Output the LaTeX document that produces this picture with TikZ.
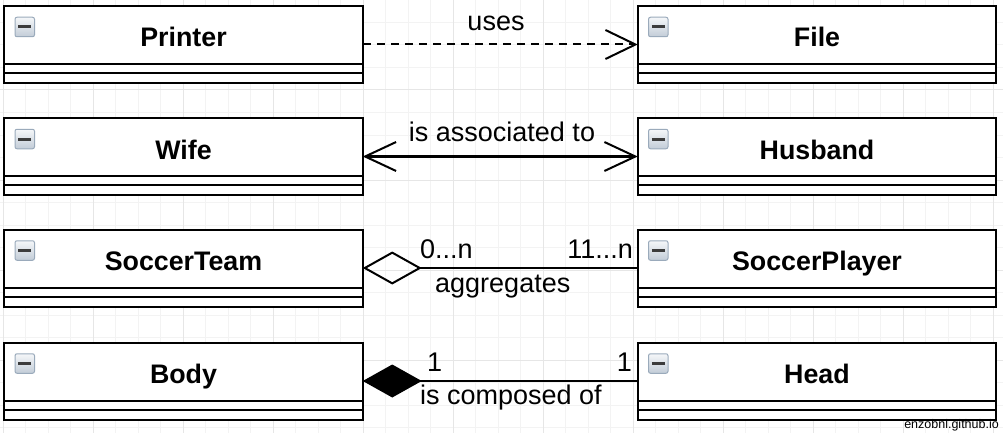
\documentclass[tikz,border=0pt]{standalone}
\usepackage{fontspec}
\setmainfont{Liberation Sans}
\usetikzlibrary{arrows.meta,calc}
\definecolor{gridminor}{HTML}{F3F3F3}
\definecolor{gridmajor}{HTML}{E6E6E6}
\definecolor{iconborder}{HTML}{9AAABB}
\definecolor{icontop}{HTML}{F5F7F9}
\definecolor{iconbottom}{HTML}{C2CCD7}
\definecolor{iconbar}{HTML}{3C3C3C}
\tikzset{
  classbox/.style={rectangle, draw=black, line width=2pt, fill=white, minimum width=358.5pt, minimum height=77pt, inner sep=0pt, outer sep=0pt},
  boxline/.style={draw=black, line width=2pt},
  classname/.style={font=\bfseries\fontsize{26.8}{30}\selectfont, inner sep=0pt},
  lbl/.style={font=\fontsize{27}{30}\selectfont, inner sep=0pt},
  icon/.style={rectangle, draw=iconborder, line width=1pt, rounded corners=2pt, top color=icontop, bottom color=iconbottom, minimum width=19.5pt, minimum height=19.5pt, inner sep=0pt},
  iconminus/.style={draw=iconbar, line width=3pt},
  conn/.style={draw=black, line width=2pt},
  gridline/.style={draw=gridminor, line width=1pt},
  gridmaj/.style={draw=gridmajor, line width=1pt},
  watermark/.style={font=\fontsize{12.5}{14}\selectfont, inner sep=0pt},
}
\newcommand{\umlclass}[4]{%
  \node[classbox] (#1) at (#2,#3+38.5) {};
  \draw[boxline] ($(#1.north west)+(0,58)$) -- ($(#1.north east)+(0,58)$);
  \draw[boxline] ($(#1.north west)+(0,67)$) -- ($(#1.north east)+(0,67)$);
  \node[classname, anchor=base] (#1-name) at (#2,#3+41) {#4};
  \node[icon] (#1-icon) at ($(#1.north west)+(20.5,21)$) {};
  \draw[iconminus] ($(#1-icon.center)+(-6.5,0)$) -- ($(#1-icon.center)+(6.5,0)$);
}
\begin{document}
\begin{tikzpicture}[x=1pt,y=-1pt]
  \useasboundingbox (0,0) rectangle (1003,433);
  \fill[white] (0,0) rectangle (1003,433);
  % grid
  \foreach \k in {0,...,44} \draw[gridline] (3+22.5*\k,0) -- (3+22.5*\k,433);
  \foreach \k in {0,...,19} \draw[gridline] (0,22.5*\k) -- (1003,22.5*\k);
  \foreach \k in {0,...,11} \draw[gridmaj] (3+90*\k,0) -- (3+90*\k,433);
  \foreach \k in {0,...,4} \draw[gridmaj] (0,90*\k) -- (1003,90*\k);
  % classes
  \umlclass{printer}{183.5}{6}{Printer}
  \umlclass{file}{817}{6}{File}
  \umlclass{wife}{183.5}{118}{Wife}
  \umlclass{husband}{817}{118}{Husband}
  \umlclass{team}{183.5}{229.5}{SoccerTeam}
  \umlclass{player}{817}{229.5}{SoccerPlayer}
  \umlclass{body}{183.5}{342.5}{Body}
  \umlclass{head}{817}{342.5}{Head}
  % connectors
  \draw[conn, dash pattern=on 8pt off 6pt, -{Straight Barb[length=30pt,width=29pt,line width'=2pt]}] (printer.east) -- (file.west);
  \draw[conn, line width=2.7pt, {Straight Barb[length=31pt,width=29pt,line width'=2pt]}-{Straight Barb[length=31pt,width=29pt,line width'=2pt]}] (wife.east) -- (husband.west);
  \draw[conn, {Diamond[open,length=59pt,width=33pt]}-] (team.east) -- (player.west);
  \draw[conn, {Diamond[length=59pt,width=33pt]}-] (body.east) -- (head.west);
  % labels
  \node[lbl, anchor=base] (uses) at (496,31) {uses};
  \node[lbl, anchor=base] (assoc) at (502,142) {is associated to};
  \node[lbl, anchor=base west] (aggmin) at (420,258) {0...n};
  \node[lbl, anchor=base east] (aggmax) at (633,258) {11...n};
  \node[lbl, anchor=base west] (agg) at (435,292) {aggregates};
  \node[lbl, anchor=base west] (compa) at (427,371) {1};
  \node[lbl, anchor=base east] (compb) at (632,371) {1};
  \node[lbl, anchor=base west] (comp) at (420,404) {is composed of};
  \node[watermark, anchor=base east] (wm) at (999,428) {enzobnl.github.io};
\end{tikzpicture}
\end{document}
